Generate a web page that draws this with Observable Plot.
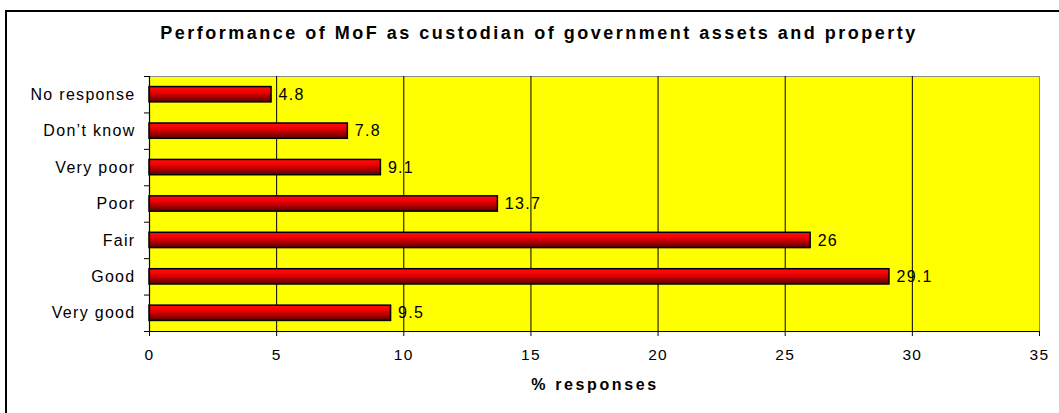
<!DOCTYPE html>
<html><head><meta charset="utf-8">
<script src="https://cdn.jsdelivr.net/npm/d3@7"></script>
<script src="https://cdn.jsdelivr.net/npm/@observablehq/plot@0.6"></script>
<style>
body{margin:0;background:#fff;font-family:"Liberation Sans",Arial,sans-serif;}
#wrap{position:relative;width:1059px;height:413px;overflow:hidden;background:#fff}
#frame{position:absolute;left:5px;top:10px;width:1100px;height:450px;border:2px solid #000;box-sizing:border-box}
#title{position:absolute;left:0;width:1078px;top:23px;text-align:center;font-weight:bold;font-size:18px;letter-spacing:2.5px;color:#000;white-space:nowrap}
#xlabel{position:absolute;left:0;width:1190px;top:376px;text-align:center;font-weight:bold;font-size:16px;letter-spacing:2.6px;color:#000;white-space:nowrap}
#chart{position:absolute;left:0;top:0}
</style></head>
<body>
<div id="wrap">
  <div id="frame"></div>
  <div id="chart"></div>
  <div id="title">Performance of MoF as custodian of government assets and property</div>
  <div id="xlabel">% responses</div>
</div>
<script>
const categories = ["No response", "Don\u2019t know", "Very poor", "Poor", "Fair", "Good", "Very good"];
const values = [4.8, 7.8, 9.1, 13.7, 26, 29.1, 9.5];
const xTicks = [0, 5, 10, 15, 20, 25, 30, 35];
const gridTicks = [5, 10, 15, 20, 25, 30];

const data = categories.map((c, i) => ({category: c, value: values[i], idx: i}));
const bandEdges = d3.range(categories.length + 1);
const bandCenters = categories.map((c, i) => i + 0.5);

const plot = Plot.plot({
  width: 1059,
  height: 413,
  marginLeft: 149,
  marginRight: 20,
  marginTop: 76,
  marginBottom: 82,
  style: {fontFamily: "'Liberation Sans', Arial, sans-serif", fontSize: "15px", background: "transparent", color: "#000", overflow: "visible"},
  x: {domain: [0, 35]},
  y: {domain: [0, categories.length], reverse: true},
  marks: [
    Plot.frame({fill: "#ffff00", stroke: "#8c8c8c", strokeWidth: 1}),
    Plot.ruleX(gridTicks, {stroke: "#000", strokeWidth: 1}),
    Plot.rectX(data, {x1: 0, x2: "value", y1: d => d.idx + 0.29, y2: d => d.idx + 0.71, fill: "url(#barGrad)", stroke: "#000", strokeWidth: 1.5}),
    Plot.text(data, {x: "value", y: d => d.idx + 0.5, text: d => String(d.value), textAnchor: "start", dx: 7, fontSize: 16, fill: "#000"}),
    Plot.ruleX([0], {stroke: "#000", strokeWidth: 1.2}),
    Plot.ruleY([categories.length], {stroke: "#000", strokeWidth: 1.2}),
    Plot.axisX(xTicks, {tickSize: 5, tickPadding: 12, fontSize: 15.5, label: null, stroke: "#000"}),
    Plot.axisY(bandEdges, {tickSize: 5, tickFormat: () => "", label: null, stroke: "#000"}),
    Plot.axisY(bandCenters, {tickSize: 0, tickPadding: 14, fontSize: 16, tickFormat: v => categories[Math.floor(v)], label: null})
  ]
});

const svg = d3.select(plot);
svg.insert("defs", ":first-child").html(
  '<linearGradient id="barGrad" x1="0" y1="0" x2="0" y2="1">' +
  '<stop offset="0%" stop-color="#ff1010"/>' +
  '<stop offset="35%" stop-color="#f00000"/>' +
  '<stop offset="100%" stop-color="#5a0000"/>' +
  '</linearGradient>');
svg.selectAll("text").style("letter-spacing", "1.3px");
svg.selectAll("[aria-label='y-axis tick label'] text").style("letter-spacing", "1.3px");
svg.selectAll("[aria-label='text'] text").style("letter-spacing", "1.3px");
document.getElementById("chart").appendChild(plot);
</script>
</body></html>
